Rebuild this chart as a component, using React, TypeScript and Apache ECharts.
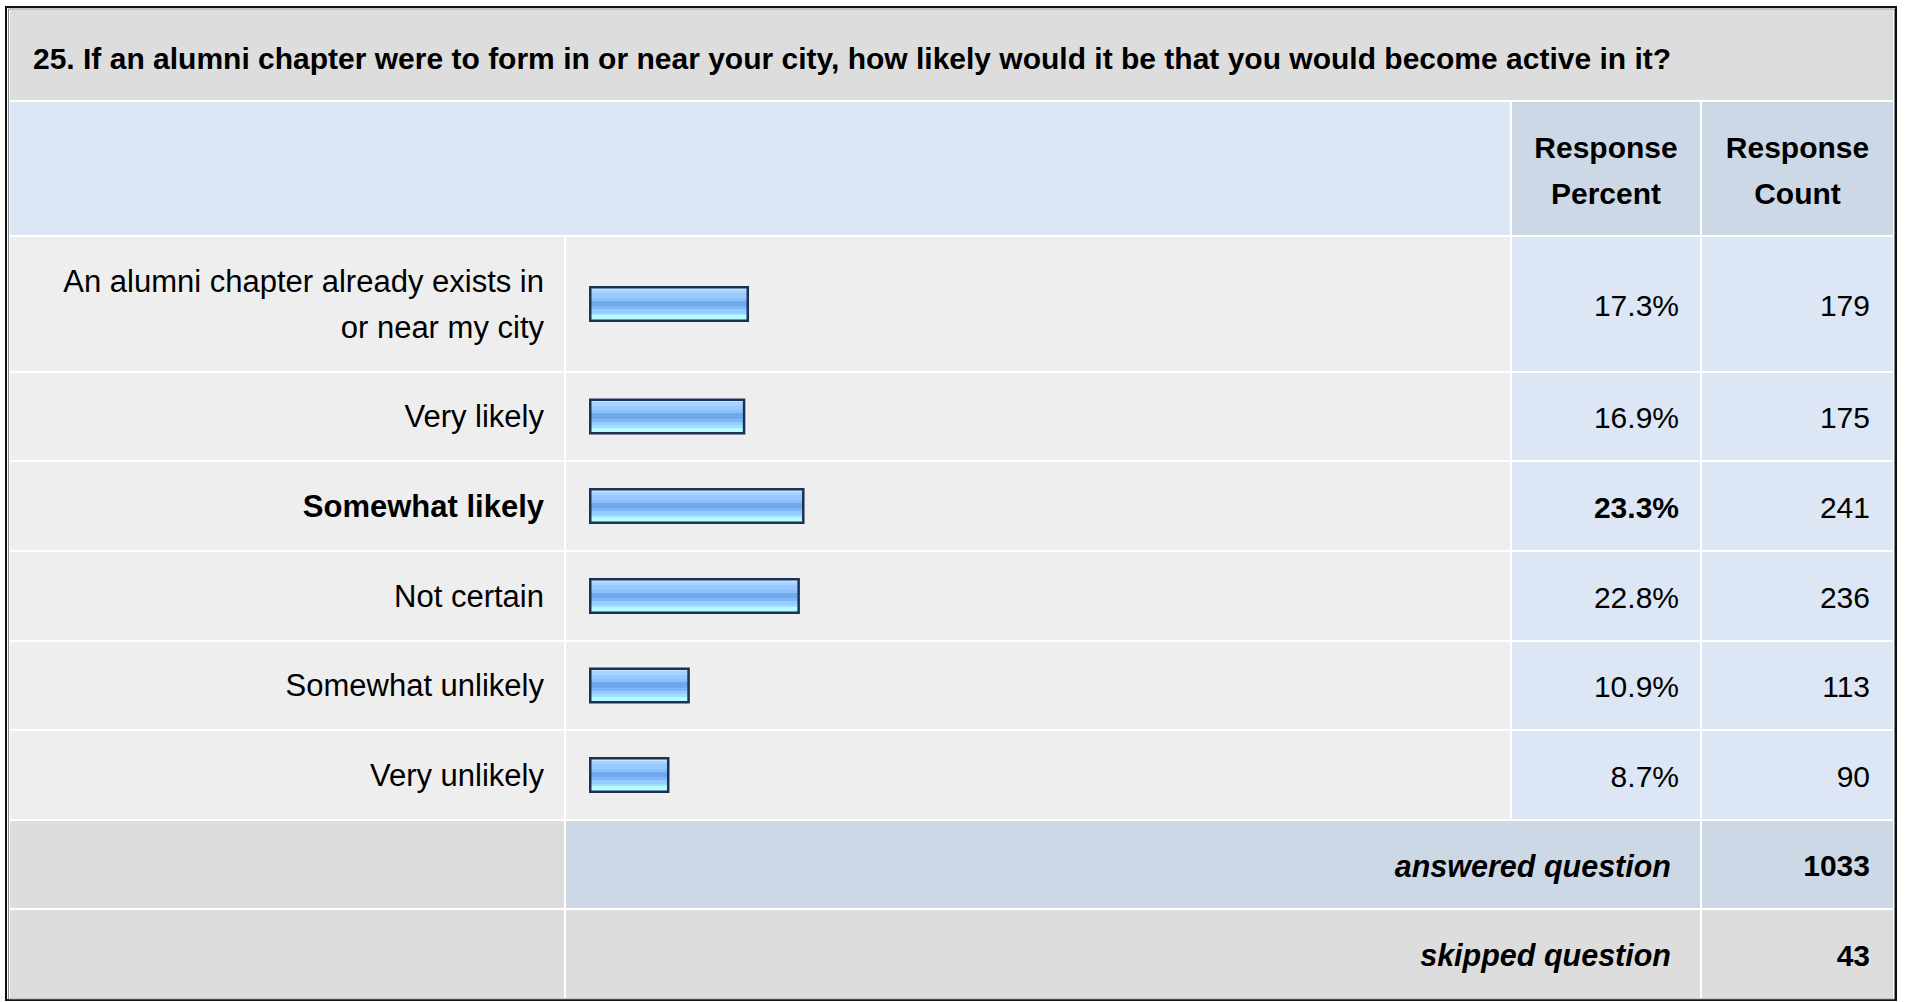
import React, { useEffect, useRef } from "react";
import * as echarts from "echarts";

// Survey question 25 – response distribution
const questionTitle =
  "25. If an alumni chapter were to form in or near your city, how likely would it be that you would become active in it?";
const categories = [
  "An alumni chapter already exists in\nor near my city",
  "Very likely",
  "Somewhat likely",
  "Not certain",
  "Somewhat unlikely",
  "Very unlikely",
];
const responsePercents = [17.3, 16.9, 23.3, 22.8, 10.9, 8.7];
const responseCounts = [179, 175, 241, 236, 113, 90];
const columnHeaders = ["Response\nPercent", "Response\nCount"];
const answeredLabel = "answered question";
const answeredCount = 1033;
const skippedLabel = "skipped question";
const skippedCount = 43;

// Table geometry (px)
const FONT = "'Liberation Sans', Arial, Helvetica, sans-serif";
const X_LEFT = 10;
const X_LABEL_END = 564;
const X_BAR_START = 566;
const X_BAR_END = 1510;
const X_PCT_START = 1512;
const X_PCT_END = 1700;
const X_CNT_START = 1702;
const X_RIGHT = 1893;
const TITLE_TOP = 10;
const TITLE_BOTTOM = 100;
const HEADER_TOP = 102;
const HEADER_BOTTOM = 235;
const ROW_TOPS = [237, 373, 462, 552, 642, 731];
const ROW_BOTTOMS = [371, 460, 550, 640, 729, 819];
const ANSWERED_TOP = 821;
const ANSWERED_BOTTOM = 908;
const SKIPPED_TOP = 910;
const SKIPPED_BOTTOM = 998;
const PLOT_LEFT = 589;
const PLOT_WIDTH = 925;
const LABEL_RIGHT = 544;
const PCT_RIGHT = 1679;
const CNT_RIGHT = 1870;

const C_TITLE = "#dddddd";
const C_HEAD = "#dce6f4";
const C_HEAD_COL = "#cdd8e6";
const C_ROW = "#eeeeee";
const C_ROW_COL = "#dce6f4";
const C_FOOT = "#dddddd";
const C_FOOT_BLUE = "#cdd8e6";

const barFill = {
  type: "linear",
  x: 0,
  y: 0,
  x2: 0,
  y2: 1,
  colorStops: [
    { offset: 0, color: "#c8e2ff" },
    { offset: 0.08, color: "#c8e2ff" },
    { offset: 0.08, color: "#a8d2ff" },
    { offset: 0.18, color: "#a8d2ff" },
    { offset: 0.18, color: "#98caff" },
    { offset: 0.31, color: "#98caff" },
    { offset: 0.31, color: "#8cc0fa" },
    { offset: 0.41, color: "#8cc0fa" },
    { offset: 0.41, color: "#70a8ee" },
    { offset: 0.57, color: "#70a8ee" },
    { offset: 0.57, color: "#7eb6f6" },
    { offset: 0.65, color: "#7eb6f6" },
    { offset: 0.65, color: "#94ccff" },
    { offset: 0.755, color: "#94ccff" },
    { offset: 0.755, color: "#a6dcff" },
    { offset: 0.84, color: "#a6dcff" },
    { offset: 0.84, color: "#b4fcff" },
    { offset: 1, color: "#b4fcff" },
  ],
};

function cell(x1: number, y1: number, x2: number, y2: number, fill: string) {
  return {
    type: "rect",
    z: -5,
    silent: true,
    shape: { x: x1, y: y1, width: x2 - x1, height: y2 - y1 },
    style: { fill },
  };
}

function text(
  str: string,
  x: number,
  y: number,
  align: string,
  opts: { bold?: boolean; italic?: boolean; size?: number } = {}
) {
  return {
    type: "text",
    z: 10,
    silent: true,
    x,
    y,
    style: {
      text: str,
      x: 0,
      y: 0,
      align,
      verticalAlign: "middle",
      fill: "#000000",
      fontFamily: FONT,
      fontSize: opts.size ?? 30,
      fontWeight: opts.bold ? "bold" : "normal",
      fontStyle: opts.italic ? "italic" : "normal",
      lineHeight: 46,
    },
  };
}

export default function App() {
  const ref = useRef<HTMLDivElement>(null);

  useEffect(() => {
    document.body.style.margin = "0";
    document.body.style.overflow = "hidden";
    const chart = echarts.init(ref.current!, null, { renderer: "svg" });

    const maxIdx = responsePercents.indexOf(Math.max(...responsePercents));
    const rowMid = (i: number) => (ROW_TOPS[i] + ROW_BOTTOMS[i]) / 2;

    const elements: any[] = [];
    // outer frame
    elements.push({
      type: "rect",
      z: 20,
      silent: true,
      shape: { x: 6, y: 7, width: 1890, height: 993 },
      style: { fill: "none", stroke: "#111111", lineWidth: 2 },
    });
    elements.push({
      type: "rect",
      z: 20,
      silent: true,
      shape: { x: 8.5, y: 9, width: 1886, height: 990 },
      style: { fill: "none", stroke: "#8a8a8a", lineWidth: 1 },
    });

    // title band
    elements.push(cell(X_LEFT, TITLE_TOP, X_RIGHT, TITLE_BOTTOM, C_TITLE));
    elements.push(text(questionTitle, 33, 58, "left", { bold: true, size: 30 }));

    // header
    elements.push(cell(X_LEFT, HEADER_TOP, X_BAR_END, HEADER_BOTTOM, C_HEAD));
    elements.push(cell(X_PCT_START, HEADER_TOP, X_PCT_END, HEADER_BOTTOM, C_HEAD_COL));
    elements.push(cell(X_CNT_START, HEADER_TOP, X_RIGHT, HEADER_BOTTOM, C_HEAD_COL));
    const headMid = (HEADER_TOP + HEADER_BOTTOM) / 2 + 2;
    elements.push(text(columnHeaders[0], (X_PCT_START + X_PCT_END) / 2, headMid, "center", { bold: true }));
    elements.push(text(columnHeaders[1], (X_CNT_START + X_RIGHT) / 2, headMid, "center", { bold: true }));

    // answer rows
    categories.forEach((_, i) => {
      const t = ROW_TOPS[i];
      const b = ROW_BOTTOMS[i];
      elements.push(cell(X_LEFT, t, X_LABEL_END, b, C_ROW));
      elements.push(cell(X_BAR_START, t, X_BAR_END, b, C_ROW));
      elements.push(cell(X_PCT_START, t, X_PCT_END, b, C_ROW_COL));
      elements.push(cell(X_CNT_START, t, X_RIGHT, b, C_ROW_COL));
      elements.push(
        text(responsePercents[i].toFixed(1) + "%", PCT_RIGHT, rowMid(i) + 1, "right", {
          bold: i === maxIdx,
        })
      );
      elements.push(text(String(responseCounts[i]), CNT_RIGHT, rowMid(i) + 1, "right"));
    });

    // summary rows
    elements.push(cell(X_LEFT, ANSWERED_TOP, X_LABEL_END, ANSWERED_BOTTOM, C_FOOT));
    elements.push(cell(X_BAR_START, ANSWERED_TOP, X_PCT_END, ANSWERED_BOTTOM, C_FOOT_BLUE));
    elements.push(cell(X_CNT_START, ANSWERED_TOP, X_RIGHT, ANSWERED_BOTTOM, C_FOOT_BLUE));
    const ansMid = (ANSWERED_TOP + ANSWERED_BOTTOM) / 2 + 1;
    elements.push(text(answeredLabel, 1671, ansMid, "right", { bold: true, italic: true, size: 30.5 }));
    elements.push(text(String(answeredCount), CNT_RIGHT, ansMid, "right", { bold: true }));

    elements.push(cell(X_LEFT, SKIPPED_TOP, X_LABEL_END, SKIPPED_BOTTOM, C_FOOT));
    elements.push(cell(X_BAR_START, SKIPPED_TOP, X_PCT_END, SKIPPED_BOTTOM, C_FOOT));
    elements.push(cell(X_CNT_START, SKIPPED_TOP, X_RIGHT, SKIPPED_BOTTOM, C_FOOT));
    const skMid = (SKIPPED_TOP + SKIPPED_BOTTOM) / 2 + 1;
    elements.push(text(skippedLabel, 1671, skMid, "right", { bold: true, italic: true, size: 30.5 }));
    elements.push(text(String(skippedCount), CNT_RIGHT, skMid, "right", { bold: true }));

    // one grid per answer row, so each row keeps its own height
    const grids = categories.map((_, i) => ({
      left: PLOT_LEFT,
      width: PLOT_WIDTH,
      top: ROW_TOPS[i],
      height: ROW_BOTTOMS[i] - ROW_TOPS[i],
      containLabel: false,
    }));
    const xAxes = categories.map((_, i) => ({
      type: "value",
      gridIndex: i,
      min: 0,
      max: 100,
      show: false,
    }));
    const yAxes = categories.map((c, i) => ({
      type: "category",
      gridIndex: i,
      data: [{ value: c, textStyle: { fontWeight: i === maxIdx ? "bold" : "normal" } }],
      axisLine: { show: false },
      axisTick: { show: false },
      splitLine: { show: false },
      axisLabel: {
        show: true,
        align: "right",
        margin: PLOT_LEFT - LABEL_RIGHT,
        fontSize: 31,
        fontFamily: FONT,
        color: "#000000",
        lineHeight: 46,
      },
    }));
    const series = categories.map((_, i) => ({
      type: "bar",
      xAxisIndex: i,
      yAxisIndex: i,
      data: [responsePercents[i]],
      barWidth: 36,
      z: 5,
      itemStyle: {
        color: barFill,
        borderColor: "#1a3254",
        borderWidth: 2.5,
      },
      silent: true,
    }));

    chart.setOption({
      animation: false,
      backgroundColor: "#ffffff",
      grid: grids,
      xAxis: xAxes,
      yAxis: yAxes,
      series,
      graphic: { elements },
    });

    return () => chart.dispose();
  }, []);

  return <div ref={ref} style={{ width: 1907, height: 1002 }} />;
}
